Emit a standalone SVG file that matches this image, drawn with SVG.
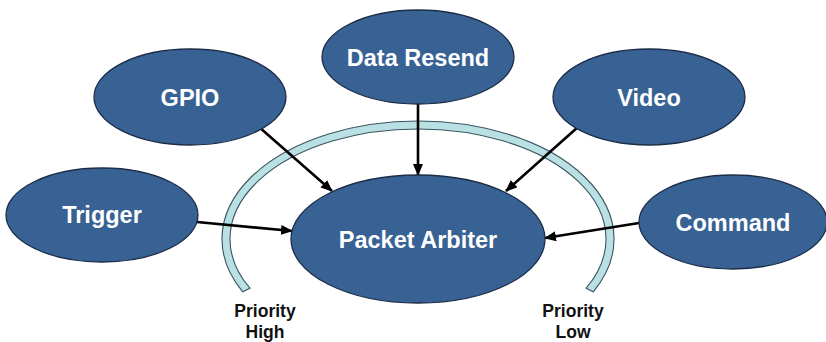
<svg xmlns="http://www.w3.org/2000/svg" width="826" height="342" viewBox="0 0 826 342">
<style>
.node ellipse{fill:#386194;stroke:#1c2d48;stroke-width:1.3}
.node text{font-family:"Liberation Sans",Arial,sans-serif;font-weight:bold;font-size:23.5px;fill:#ffffff;text-anchor:middle}
.conn line{stroke:#000;stroke-width:2.6;marker-end:url(#ah)}
.lbl{font-family:"Liberation Sans",Arial,sans-serif;font-weight:bold;font-size:17.5px;fill:#111;text-anchor:middle}
</style>
<defs>
<marker id="ah" markerUnits="userSpaceOnUse" markerWidth="12" markerHeight="10" refX="11" refY="5" orient="auto">
<path d="M0,0 L12,5 L0,10 Z" fill="#000"/>
</marker>
</defs>
<rect width="826" height="342" fill="#fff"/>
<g id="priority-ring">
<path d="M 242.7 291.8 A 196 118 0 1 1 593.3 291.8 L 586.1 288.2 A 188 110 0 1 0 249.9 288.2 Z" fill="#b9e0e3" stroke="#3a5560" stroke-width="1.1"/>
</g>
<g id="connectors" class="conn">
<line x1="418" y1="104" x2="418" y2="175"/>
<line x1="259" y1="127" x2="332" y2="191"/>
<line x1="578" y1="127" x2="506" y2="191"/>
<line x1="197" y1="222" x2="292" y2="231"/>
<line x1="639" y1="223" x2="545" y2="238"/>
</g>
<g id="gpio" class="node"><ellipse cx="190" cy="97" rx="96" ry="48"/><text x="190" y="106">GPIO</text></g>
<g id="data-resend" class="node"><ellipse cx="418" cy="57" rx="96" ry="47"/><text x="418" y="66">Data Resend</text></g>
<g id="video" class="node"><ellipse cx="649" cy="97" rx="96" ry="48"/><text x="649" y="106">Video</text></g>
<g id="trigger" class="node"><ellipse cx="102" cy="215" rx="96" ry="47"/><text x="102" y="223">Trigger</text></g>
<g id="command" class="node"><ellipse cx="733" cy="222" rx="94" ry="47"/><text x="733" y="231">Command</text></g>
<g id="packet-arbiter" class="node"><ellipse cx="418" cy="239" rx="127" ry="64"/><text x="418" y="248">Packet Arbiter</text></g>
<g id="labels">
<text class="lbl" x="265" y="317">Priority</text>
<text class="lbl" x="265" y="338">High</text>
<text class="lbl" x="573" y="317">Priority</text>
<text class="lbl" x="573" y="338">Low</text>
</g>
</svg>
